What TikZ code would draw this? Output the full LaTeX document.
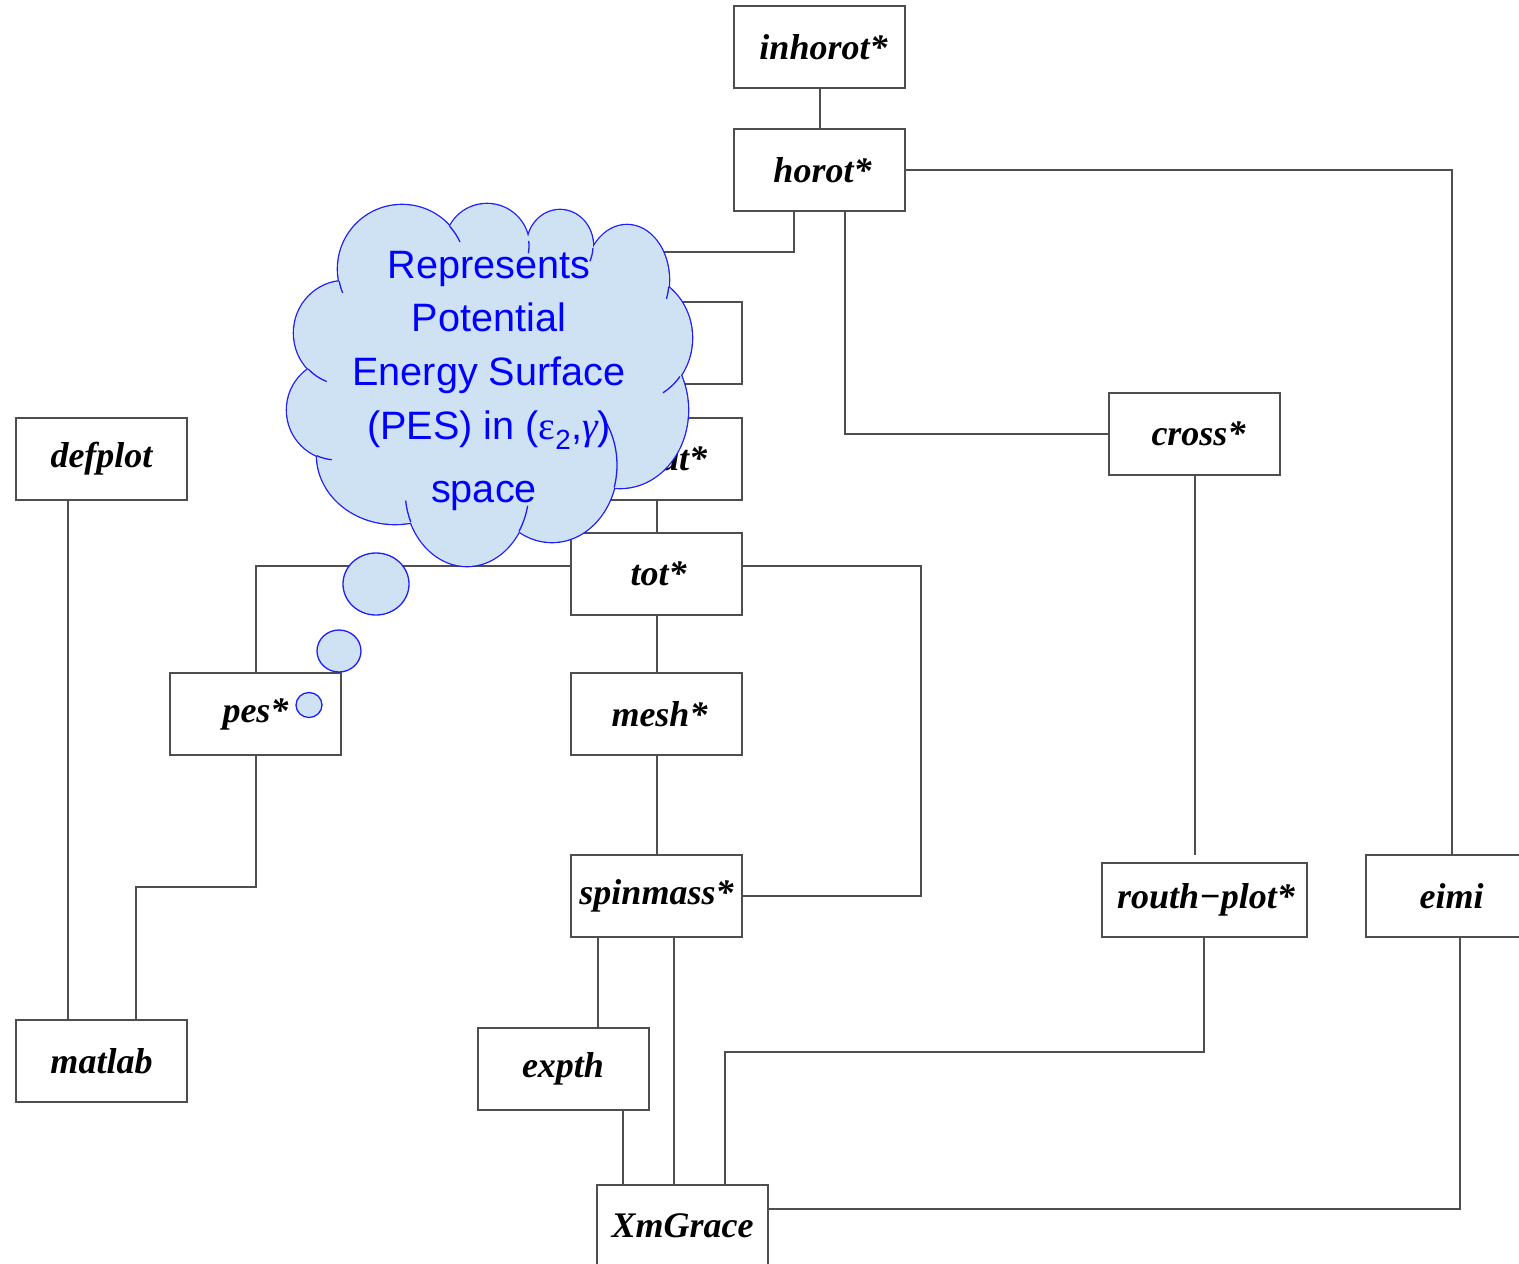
\documentclass[tikz,border=0pt]{standalone}
\usepackage{fontspec}
\setmainfont{Liberation Serif}
\newfontfamily\cloudfont{Liberation Sans}
\newfontfamily\greekfont{Liberation Serif}
\usetikzlibrary{calc}
\definecolor{edgegray}{RGB}{78,78,78}
\definecolor{cloudfill}{RGB}{207,226,243}
\definecolor{cloudline}{RGB}{30,30,250}
\definecolor{cloudtext}{RGB}{0,0,255}

\begin{document}
\begin{tikzpicture}[x=1pt,y=-1pt,
  prog/.style={draw=edgegray, line width=2pt, minimum width=171pt, minimum height=82pt,
    inner sep=0pt, outer sep=0pt, fill=white,
    font=\fontsize{36}{40}\selectfont\bfseries\itshape},
  link/.style={draw=edgegray, line width=2pt},
  cloudtxt/.style={text=cloudtext, font=\fontsize{39.6}{44}\selectfont\cloudfont,
    anchor=base, inner sep=0pt},
  bubble/.style={draw=cloudline, line width=1.3pt, fill=cloudfill}]
\clip (0,0) rectangle (1519,1264);

% program boxes
\node[prog] (inhorot)  at (819.5,47)   {\hspace*{8pt}inhorot*};
\node[prog] (horot)    at (819.5,170)  {\hspace*{6pt}horot*};
\node[prog] (hidden)   at (656.5,343)  {};
\node[prog] (atbox)    at (656.5,459)  {\hspace*{55pt}at*};
\node[prog] (tot)      at (656.5,574)  {\hspace*{4pt}tot*};
\node[prog] (mesh)     at (656.5,714)  {\hspace*{6pt}mesh*};
\node[prog] (spinmass) at (656.5,896)  {spinmass*};
\node[prog] (expth)    at (563,1069)   {expth};
\node[prog] (xmgrace)  at (682.5,1226) {XmGrace};
\node[prog] (defplot)  at (101.5,459)  {defplot};
\node[prog] (matlab)   at (101.5,1061) {matlab};
\node[prog] (pes)      at (255.5,714)  {pes*};
\node[prog] (cross)    at (1194.5,434) {\hspace*{8pt}cross*};
\node[prog, minimum width=205pt, minimum height=74pt] (routh) at (1204,900) {\hspace*{4pt}routh−plot*};
\node[prog] (eimi)     at (1451.5,896) {eimi};

% attachment points off the box centres
\coordinate (hl) at ([xshift=-25.5pt]horot.south);
\coordinate (hr) at ([xshift=25.5pt]horot.south);
\coordinate (sa) at ([xshift=-58.5pt]spinmass.south);
\coordinate (sb) at ([xshift=17.5pt]spinmass.south);
\coordinate (ea) at ([xshift=60pt]expth.south);
\coordinate (xc) at ([xshift=42.5pt]xmgrace.north);
\coordinate (eb) at ([xshift=8.5pt]eimi.south);
\coordinate (dl) at ([xshift=-33.5pt]defplot.south);

% connectors
\draw[link] (inhorot.south) -- (horot.north);
\draw[link] (horot.east) -| (eimi.north);
\draw[link] (hl) |- ([yshift=50pt]hidden.north) -- (hidden.north);
\draw[link] (hr) |- (cross.west);
\draw[link, shorten >=8pt] (cross.south) -- (cross.south |- routh.north);
\draw[link] (atbox.south) -- (tot.north);
\draw[link] ([yshift=8pt]tot.west) -| (pes.north);
\draw[link] ([yshift=8pt]tot.east) -- ++(179,0) |- (spinmass.east);
\draw[link] (tot.south) -- (mesh.north);
\draw[link] (mesh.south) -- (spinmass.north);
\draw[link] (sa) -- (sa |- expth.north);
\draw[link] (sb) -- (sb |- xmgrace.north);
\draw[link] (ea) -- (ea |- xmgrace.north);
\draw[link] (routh.south) -- ++(0,115) -| (xc);
\draw[link] (eb) |- ([yshift=17pt]xmgrace.east);
\draw[link] (pes.south) -- ++(0,132) -| ([xshift=34.5pt]matlab.north);
\draw[link] (dl) -- (dl |- matlab.north);

% thought cloud: wide outlines of every puff, then the fill hides the inner half
\foreach \cx/\cy/\rx/\ry in {402/269/64/64, 487/246/42/42, 560/246/33/36, 627/280/42/55,
    632/338/60/64, 620/410/68/78, 552/465/65/77, 467/490/62/76, 395/455/78/69,
    337/410/50/50, 345/333/51/52}
  \draw[cloudline, line width=2.6pt] (\cx,\cy) ellipse [x radius=\rx pt, y radius=\ry pt];
\foreach \cx/\cy/\rx/\ry in {402/269/64/64, 487/246/42/42, 560/246/33/36, 627/280/42/55,
    632/338/60/64, 620/410/68/78, 552/465/65/77, 467/490/62/76, 395/455/78/69,
    337/410/50/50, 345/333/51/52}
  \fill[cloudfill] (\cx,\cy) ellipse [x radius=\rx pt, y radius=\ry pt];
\fill[cloudfill] (402,269) -- (487,246) -- (560,246) -- (627,280) -- (632,338) -- (620,410)
  -- (552,465) -- (467,490) -- (395,455) -- (337,410) -- (345,333) -- cycle;
% short inner strokes where the puffs overlap
\foreach \cx/\cy/\rx/\ry/\ta/\tb in {402/269/64/64/-169/-158, 402/269/64/64/42/25,
    487/246/42/42/7/-10, 560/246/33/36/-3/-25, 627/280/42/55/-7/-20,
    632/338/60/64/-37/-59, 552/465/65/77/-17/38, 467/490/62/76/-33/-12,
    467/490/62/76/-155/-172, 337/410/50/50/-114/-96, 345/333/51/52/-136/-111}
  \draw[cloudline, line width=1.3pt] (\cx,\cy) ++(\ta:\rx pt and \ry pt)
    arc[start angle=\ta, end angle=\tb, x radius=\rx pt, y radius=\ry pt];

% trailing bubbles
\draw[bubble] (376,584) ellipse [x radius=33pt, y radius=31pt];
\draw[bubble] (339,651) ellipse [x radius=22pt, y radius=21pt];
\draw[bubble] (309,705) ellipse [x radius=13pt, y radius=12.5pt];

% cloud text
\node[cloudtxt] (c1) at (489,278) {Represents};
\node[cloudtxt] (c2) at (489,331.5) {Potential};
\node[cloudtxt] (c3) at (489,385) {Energy Surface};
\node[cloudtxt] (c4) at (489,439) {(PES) in ({\greekfont ε}\textsubscript{2},{\greekfont\itshape γ})};
\node[cloudtxt] (c5) at (484,502) {space};
\end{tikzpicture}
\end{document}
